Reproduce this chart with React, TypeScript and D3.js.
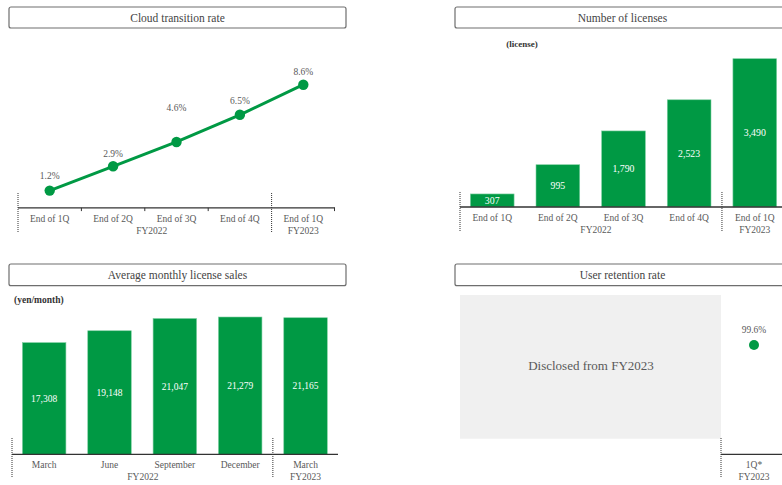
import React from 'react';
import * as d3 from 'd3';

const cloudLabels = ['End of 1Q', 'End of 2Q', 'End of 3Q', 'End of 4Q', 'End of 1Q'];
const cloudRates = [1.2, 2.9, 4.6, 6.5, 8.6];
const licenseLabels = ['End of 1Q', 'End of 2Q', 'End of 3Q', 'End of 4Q', 'End of 1Q'];
const licenseCounts = [307, 995, 1790, 2523, 3490];
const salesLabels = ['March', 'June', 'September', 'December', 'March'];
const salesValues = [17308, 19148, 21047, 21279, 21165];
const retentionLabels = ['1Q*'];
const retentionValues = [99.6];
const fyGroups = ['FY2022', 'FY2023'];

const GREEN = '#009944';
const TEXT = '#595959';
const AXIS = '#333333';
const FONT = "'Liberation Serif', 'Times New Roman', Times, serif";

// label lift above each point in panel 1 (layout, not data)
const cloudLabelLift = [14.6, 13, 34.3, 14, 12.7];

const fmt = d3.format(',');

function TitleBox({ x, y, w, h, text }: { x: number; y: number; w: number; h: number; text: string }) {
  return (
    <g>
      <rect x={x} y={y} width={w} height={h} rx={2} fill="#fff" stroke="#6e6e6e" strokeWidth={1.2} />
      <text x={x + w / 2} y={y + h / 2} dy="0.35em" textAnchor="middle" fontSize={11.5} fill="#444">
        {text}
      </text>
    </g>
  );
}

function Dotted({ x, y1, y2 }: { x: number; y1: number; y2: number }) {
  return <line x1={x} x2={x} y1={y1} y2={y2} stroke={AXIS} strokeWidth={1} strokeDasharray="1,1" />;
}

function CatLabels({ xs, labels, y, fyX }: { xs: number[]; labels: string[]; y: number; fyX: number }) {
  const n = labels.length;
  return (
    <g fontSize={9.5} fill={TEXT} textAnchor="middle">
      {labels.map((l, i) => (
        <text key={i} x={xs[i]} y={y} dy="0.35em">{l}</text>
      ))}
      <text x={fyX} y={y + 11.5} dy="0.35em">{fyGroups[0]}</text>
      <text x={xs[n - 1]} y={y + 11.5} dy="0.35em">{fyGroups[1]}</text>
    </g>
  );
}

export default function App() {
  // Panel 1: cloud transition rate (line)
  const idx = d3.range(cloudRates.length);
  const x1 = d3.scaleBand<number>().domain(idx).range([18, 335]).paddingInner(0).paddingOuter(0);
  const y1 = d3.scaleLinear().domain([0, 8.6]).range([207.8, 84.7]);
  const base1 = 207.8;
  const line1 = d3
    .line<number>()
    .x((_, i) => (x1(i) as number) + x1.bandwidth() / 2)
    .y((d) => y1(d));
  const c1 = idx.map((i) => (x1(i) as number) + x1.bandwidth() / 2);

  // Panel 2: number of licenses (bars)
  const x2 = d3.scaleBand<number>().domain(idx).range([459.4, 787.6]).paddingInner(0.334).paddingOuter(0.167);
  const base2 = 207;
  const y2 = d3.scaleLinear().domain([0, 3490]).range([base2, 58.7]);
  const c2 = idx.map((i) => (x2(i) as number) + x2.bandwidth() / 2);
  const step2 = x2.step();
  const slot2 = (i: number) => (x2(i) as number) - step2 * 0.167;

  // Panel 3: average monthly license sales
  const x3 = d3.scaleBand<number>().domain(idx).range([11.5, 338.2]).paddingInner(0.334).paddingOuter(0.167);
  const base3 = 454.3;
  const y3 = d3.scaleLinear().domain([0, 21279]).range([base3, 317]);
  const c3 = idx.map((i) => (x3(i) as number) + x3.bandwidth() / 2);
  const step3 = x3.step();
  const slot3 = (i: number) => (x3(i) as number) - step3 * 0.167;

  // Panel 4: user retention
  const x4 = d3.scaleBand<number>().domain([0]).range([721, 787]);
  const y4 = d3.scaleLinear().domain([98, 100]).range([454.3, 317.6]);
  const c4 = (x4(0) as number) + x4.bandwidth() / 2;

  return (
    <svg
      width={782}
      height={485}
      style={{ position: 'absolute', left: 0, top: 0, display: 'block', background: '#fff', fontFamily: FONT }}
    >
      {/* Panel 1 */}
      <TitleBox x={9} y={7} w={337} h={21} text="Cloud transition rate" />
      <line x1={18} x2={335} y1={base1} y2={base1} stroke={AXIS} strokeWidth={1.3} />
      {[1, 2, 3].map((i) => (
        <line key={i} x1={x1(i) as number} x2={x1(i) as number} y1={base1} y2={base1 + 3.3} stroke={AXIS} strokeWidth={1} />
      ))}
      <line x1={334.5} x2={334.5} y1={base1} y2={base1 + 3.3} stroke={AXIS} strokeWidth={1} />
      <Dotted x={18} y1={193} y2={233} />
      <Dotted x={x1(4) as number} y1={193} y2={233} />
      <path d={line1(cloudRates) || ''} fill="none" stroke={GREEN} strokeWidth={3} />
      {cloudRates.map((v, i) => (
        <g key={i}>
          <circle cx={c1[i]} cy={y1(v)} r={5.2} fill={GREEN} />
          <text x={c1[i]} y={y1(v) - cloudLabelLift[i]} dy="0.35em" textAnchor="middle" fontSize={9.5} fill={TEXT}>
            {v.toFixed(1)}%
          </text>
        </g>
      ))}
      <CatLabels xs={c1} labels={cloudLabels} y={219} fyX={c1[1] + x1.step() * 0.61} />

      {/* Panel 2 */}
      <TitleBox x={455} y={7} w={335} h={21} text="Number of licenses" />
      <text x={522} y={43.7} dy="0.35em" textAnchor="middle" fontSize={9} fontWeight="bold" fill="#333">
        (license)
      </text>
      {licenseCounts.map((v, i) => (
        <g key={i}>
          <rect
            x={x2(i) as number}
            y={y2(v)}
            width={x2.bandwidth()}
            height={base2 - y2(v)}
            fill={GREEN}
            stroke="#7fcfa2"
            strokeWidth={0.6}
          />
          <text x={c2[i]} y={(y2(v) + base2) / 2} dy="0.35em" textAnchor="middle" fontSize={9.8} fill="#fff">
            {fmt(v)}
          </text>
        </g>
      ))}
      <line x1={460} x2={782} y1={base2} y2={base2} stroke={AXIS} strokeWidth={1.3} />
      <Dotted x={slot2(0) + 0.6} y1={192} y2={232} />
      <Dotted x={slot2(4)} y1={192} y2={232} />
      <CatLabels xs={c2} labels={licenseLabels} y={218} fyX={c2[1] + step2 * 0.58} />

      {/* Panel 3 */}
      <TitleBox x={9} y={264} w={337} h={21.7} text="Average monthly license sales" />
      <text x={14} y={299.3} dy="0.35em" textAnchor="start" fontSize={9.5} fontWeight="bold" fill="#333">
        (yen/month)
      </text>
      {salesValues.map((v, i) => (
        <g key={i}>
          <rect
            x={x3(i) as number}
            y={y3(v)}
            width={x3.bandwidth()}
            height={base3 - y3(v)}
            fill={GREEN}
            stroke="#7fcfa2"
            strokeWidth={0.6}
          />
          <text x={c3[i]} y={(y3(v) + base3) / 2} dy="0.35em" textAnchor="middle" fontSize={9.5} fill="#fff">
            {fmt(v)}
          </text>
        </g>
      ))}
      <line x1={12} x2={338} y1={base3} y2={base3} stroke={AXIS} strokeWidth={1.3} />
      <Dotted x={12} y1={438} y2={477} />
      <Dotted x={slot3(4)} y1={438} y2={477} />
      <CatLabels xs={c3} labels={salesLabels} y={465} fyX={c3[1] + step3 * 0.51} />

      {/* Panel 4 */}
      <TitleBox x={455} y={264} w={335} h={21.7} text="User retention rate" />
      <rect x={460} y={295} width={261} height={143.7} fill="#f0f0f0" />
      <text x={591} y={365.7} dy="0.35em" textAnchor="middle" fontSize={13} fill={TEXT}>
        Disclosed from FY2023
      </text>
      <line x1={721} x2={782} y1={base3} y2={base3} stroke={AXIS} strokeWidth={1.3} />
      <Dotted x={721} y1={438} y2={477} />
      {retentionValues.map((v, i) => (
        <g key={i}>
          <circle cx={c4} cy={y4(v)} r={5} fill={GREEN} />
          <text x={c4} y={y4(v) - 15} dy="0.35em" textAnchor="middle" fontSize={9.5} fill={TEXT}>
            {v.toFixed(1)}%
          </text>
        </g>
      ))}
      <g fontSize={9.5} fill={TEXT} textAnchor="middle">
        <text x={c4} y={465} dy="0.35em">{retentionLabels[0]}</text>
        <text x={c4} y={476.5} dy="0.35em">{fyGroups[1]}</text>
      </g>
    </svg>
  );
}
